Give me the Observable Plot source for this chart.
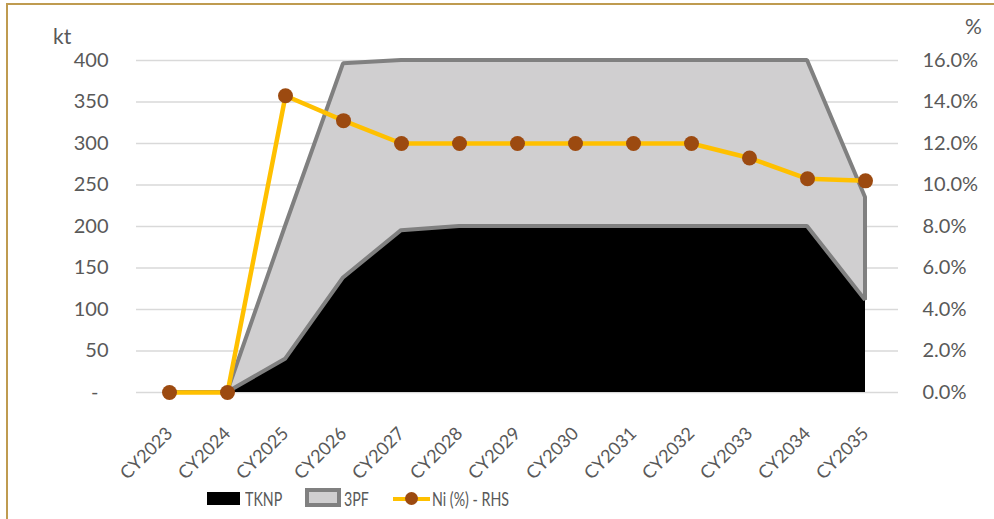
<!DOCTYPE html>
<html>
<head>
<meta charset="utf-8">
<script src="https://cdn.jsdelivr.net/npm/d3@7"></script>
<script src="https://cdn.jsdelivr.net/npm/@observablehq/plot@0.6"></script>
<style>
  html, body { margin: 0; padding: 0; background: #fff; }
  #wrap { position: relative; width: 994px; height: 519px; overflow: hidden; font-family: Lato, "Open Sans", sans-serif; color: #595959; }
  #frame { position: absolute; left: 6px; top: 3px; right: -10px; bottom: -10px; border-top: 2px solid #bf9b50; border-left: 2px solid #bf9b50; pointer-events: none; }
  .unit { position: absolute; font-size: 21px; line-height: 1; }
  #legend { position: absolute; top: 487px; left: 0; width: 994px; height: 24px; font-size: 19px; }
  .lg { position: absolute; top: 0; height: 24px; }
  .lt { position: absolute; top: 0px; white-space: nowrap; transform-origin: 0 50%; transform: scaleX(0.75); }
</style>
</head>
<body>
<div id="wrap">
  <div id="chart"></div>
  <div class="unit" style="left:53px; top:25px;">kt</div>
  <div class="unit" style="left:965px; top:15px;">%</div>
  <div id="legend">
    <div class="lg" style="left:207px; top:5px; width:33px; height:13px; background:#000;"></div>
    <div class="lt" style="left:245px;">TKNP</div>
    <div class="lg" style="left:305px; top:1px; width:28px; height:11px; background:#d0cfd0; border:4px solid #808080;"></div>
    <div class="lt" style="left:344px;">3PF</div>
    <div class="lg" style="left:393px; top:10px; width:37px; height:4px; background:#ffc000;"></div>
    <div class="lg" style="left:405px; top:5px; width:13px; height:13px; border-radius:50%; background:#9c4a10;"></div>
    <div class="lt" style="left:432px;">Ni (%) - RHS</div>
  </div>
  <div id="frame"></div>
</div>
<script>
const years = ["CY2023","CY2024","CY2025","CY2026","CY2027","CY2028","CY2029","CY2030","CY2031","CY2032","CY2033","CY2034","CY2035"];
const tknp = [0, 0, 40, 138, 195, 200, 200, 200, 200, 200, 200, 200, 111];
const pf3 = [0, 0, 160, 258, 205, 200, 200, 200, 200, 200, 200, 200, 124];
const ni = [0, 0, 14.3, 13.1, 12.0, 12.0, 12.0, 12.0, 12.0, 12.0, 11.3, 10.3, 10.2];
const leftTicks = [0, 50, 100, 150, 200, 250, 300, 350, 400];
const rightTicks = [0, 2, 4, 6, 8, 10, 12, 14, 16];

const K = 400 / 16; // right axis (%) to left axis (kt)
const rows = years.map((y, i) => ({year: y, tknp: tknp[i], pf3: pf3[i], total: tknp[i] + pf3[i], ni: ni[i]}));

const chart = Plot.plot({
  width: 994,
  height: 519,
  marginLeft: 136,
  marginRight: 96,
  marginTop: 60,
  marginBottom: 127,
  style: {fontFamily: "Lato, 'Open Sans', sans-serif", fontSize: "20px", color: "#595959", background: "transparent", overflow: "visible"},
  x: {type: "point", domain: years, padding: 0.5},
  y: {domain: [0, 400]},
  marks: [
    Plot.ruleY(leftTicks, {stroke: "#d9d9d9", strokeWidth: 1.5}),
    Plot.areaY(rows, {x: "year", y1: 0, y2: "tknp", fill: "#000"}),
    Plot.areaY(rows, {x: "year", y1: "tknp", y2: "total", fill: "#d0cfd0", stroke: "#808080", strokeWidth: 4, strokeLinejoin: "miter"}),
    Plot.line(rows, {x: "year", y: d => d.ni * K, stroke: "#ffc000", strokeWidth: 4.5}),
    Plot.dot(rows, {x: "year", y: d => d.ni * K, r: 7.5, fill: "#9c4a10"}),
    Plot.axisY(leftTicks, {anchor: "left", tickSize: 0, tickPadding: 28, label: null, tickFormat: d => d === 0 ? "-\u2002" : String(d), fontSize: 20}),
    Plot.axisY(rightTicks.map(t => t * K), {anchor: "right", tickSize: 0, tickPadding: 24, label: null, tickFormat: d => (d / K).toFixed(1) + "%", fontSize: 20}),
    Plot.axisX({tickSize: 0, tickRotate: -45, tickPadding: 38, label: null, fontSize: 18})
  ]
});
document.getElementById("chart").appendChild(chart);
</script>
</body>
</html>
